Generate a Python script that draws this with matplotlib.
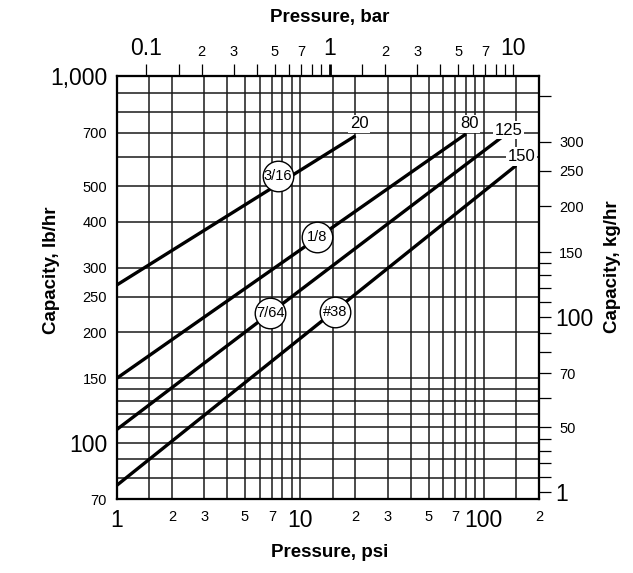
import matplotlib
matplotlib.use('Agg')
import matplotlib.pyplot as plt
from matplotlib.ticker import FixedLocator, FixedFormatter

FONT = ['Liberation Sans Narrow', 'Liberation Sans', 'DejaVu Sans']
plt.rcParams['font.family'] = FONT

PSI_PER_BAR = 14.5038
LB_PER_KG = 2.20462

# ---- data ----
series_names = ['3/16', '1/8', '7/64', '#38']
series_psi = [[1, 20], [1, 80], [1, 125], [1, 150]]
series_lb = [[269, 687], [149.7, 695], [108.5, 680], [76.4, 570]]
end_labels = ['20', '80', '125', '150']
end_label_psi = [21, 83.5, 136, 161]
end_label_lb = [740, 740, 712, 603]
circle_psi = [7.54, 12.3, 6.85, 15.5]
circle_lb = [533, 363, 225, 226.7]

psi_major = [1, 10, 100]
psi_major_labels = ['1', '10', '100']
psi_minor = [1.5, 2, 3, 4, 5, 6, 7, 8, 9, 15, 20, 30, 40, 50, 60, 70, 80, 90, 150, 200]
psi_minor_labels = ['', '2', '3', '', '5', '', '7', '', '',
                    '', '2', '3', '', '5', '', '7', '', '', '', '2']

lb_major = [100, 1000]
lb_major_labels = ['100', '1,000']
lb_minor = [70, 80, 90, 110, 120, 130, 140, 150, 200, 250, 300, 400, 500, 600, 700, 800, 900]
lb_minor_labels = ['70', '', '', '', '', '', '', '150', '200', '250', '300', '400', '500',
                   '', '700', '', '']

bar_major = [0.1, 1, 10]
bar_major_labels = ['0.1', '1', '10']
bar_minor = [0.15, 0.2, 0.3, 0.4, 0.5, 0.6, 0.7, 0.8, 0.9, 1.5, 2, 3, 4, 5, 6, 7, 8, 9]
bar_minor_labels = ['', '2', '3', '', '5', '', '7', '', '',
                    '', '2', '3', '', '5', '', '7', '', '']

kg_major = [100, 33.3]
kg_major_labels = ['100', '1']
kg_minor = [400, 300, 250, 200, 150, 140, 130, 120, 110, 90, 80, 70, 60, 50, 46.4, 43, 40, 36.5]
kg_minor_labels = ['', '300', '250', '200', '150', '', '', '', '', '', '', '70', '', '50',
                   '', '', '', '']

XLIM = (1, 200)
YLIM = (70, 1000)

BIG = 16.5
SMALL = 10.5
GRID_C = '#1a1a1a'

fig = plt.figure(figsize=(6.33, 5.73), dpi=100)
ax = fig.add_axes([0.1844, 0.1286, 0.6671, 0.7387])
ax.set_xscale('log')
ax.set_yscale('log')
ax.set_xlim(*XLIM)
ax.set_ylim(*YLIM)

ax.xaxis.set_major_locator(FixedLocator(psi_major))
ax.xaxis.set_major_formatter(FixedFormatter(psi_major_labels))
ax.xaxis.set_minor_locator(FixedLocator(psi_minor))
ax.xaxis.set_minor_formatter(FixedFormatter(psi_minor_labels))
ax.yaxis.set_major_locator(FixedLocator(lb_major))
ax.yaxis.set_major_formatter(FixedFormatter(lb_major_labels))
ax.yaxis.set_minor_locator(FixedLocator(lb_minor))
ax.yaxis.set_minor_formatter(FixedFormatter(lb_minor_labels))
ax.tick_params(which='both', length=0)
ax.tick_params(axis='x', which='major', labelsize=BIG, pad=7)
ax.tick_params(axis='x', which='minor', labelsize=SMALL, pad=8)
ax.tick_params(axis='y', which='major', labelsize=BIG, pad=7)
ax.tick_params(axis='y', which='minor', labelsize=SMALL, pad=7)
ax.grid(which='both', color=GRID_C, lw=1.1)
ax.set_axisbelow(True)
for s in ax.spines.values():
    s.set_linewidth(1.5)

for name, xs, ys in zip(series_names, series_psi, series_lb):
    ax.plot(xs, ys, color='black', lw=2.4, solid_capstyle='butt', zorder=3)

for lab, x, y in zip(end_labels, end_label_psi, end_label_lb):
    ax.text(x, y, lab, ha='center', va='center', fontsize=12, zorder=5,
            bbox=dict(boxstyle='square,pad=0.1', fc='white', ec='none'))

for name, x, y in zip(series_names, circle_psi, circle_lb):
    ax.plot([x], [y], 'o', ms=22, mfc='white', mec='black', mew=1.0, zorder=4)
    ax.text(x, y, name, ha='center', va='center', fontsize=10.5, zorder=5)

# top axis: bar
axt = ax.twiny()
axt.set_xscale('log')
axt.set_xlim(*XLIM)
axt.xaxis.set_major_locator(FixedLocator([b * PSI_PER_BAR for b in bar_major]))
axt.xaxis.set_major_formatter(FixedFormatter(bar_major_labels))
axt.xaxis.set_minor_locator(FixedLocator([b * PSI_PER_BAR for b in bar_minor]))
axt.xaxis.set_minor_formatter(FixedFormatter(bar_minor_labels))
axt.tick_params(axis='x', which='both', direction='out', length=8.5, width=0.9, color='black')
axt.tick_params(axis='x', which='major', labelsize=BIG, pad=3)
axt.tick_params(axis='x', which='minor', labelsize=SMALL, pad=4)
axt.xaxis.get_major_ticks()[1].tick2line.set_markeredgewidth(2.0)

# right axis: kg/hr
axr = ax.twinx()
axr.set_yscale('log')
axr.set_ylim(*YLIM)
axr.yaxis.set_major_locator(FixedLocator([k * LB_PER_KG for k in kg_major]))
axr.yaxis.set_major_formatter(FixedFormatter(kg_major_labels))
axr.yaxis.set_minor_locator(FixedLocator([k * LB_PER_KG for k in kg_minor]))
axr.yaxis.set_minor_formatter(FixedFormatter(kg_minor_labels))
axr.tick_params(axis='y', which='both', direction='out', length=8.5, width=0.9, color='black')
axr.tick_params(axis='y', which='major', labelsize=BIG, pad=3)
axr.tick_params(axis='y', which='minor', labelsize=SMALL, pad=6)

for a in (axt, axr):
    for s in a.spines.values():
        s.set_linewidth(1.5)

fig.text(0.082, 0.529, 'Capacity, lb/hr', rotation=90, ha='center', va='center',
         fontsize=13.5, fontweight='bold')
fig.text(0.967, 0.534, 'Capacity, kg/hr', rotation=90, ha='center', va='center',
         fontsize=13.5, fontweight='bold')
fig.text(0.521, 0.035, 'Pressure, psi', ha='center', va='center',
         fontsize=13.5, fontweight='bold')
fig.text(0.521, 0.969, 'Pressure, bar', ha='center', va='center',
         fontsize=13.5, fontweight='bold')

fig.savefig('out.png', dpi=100)
